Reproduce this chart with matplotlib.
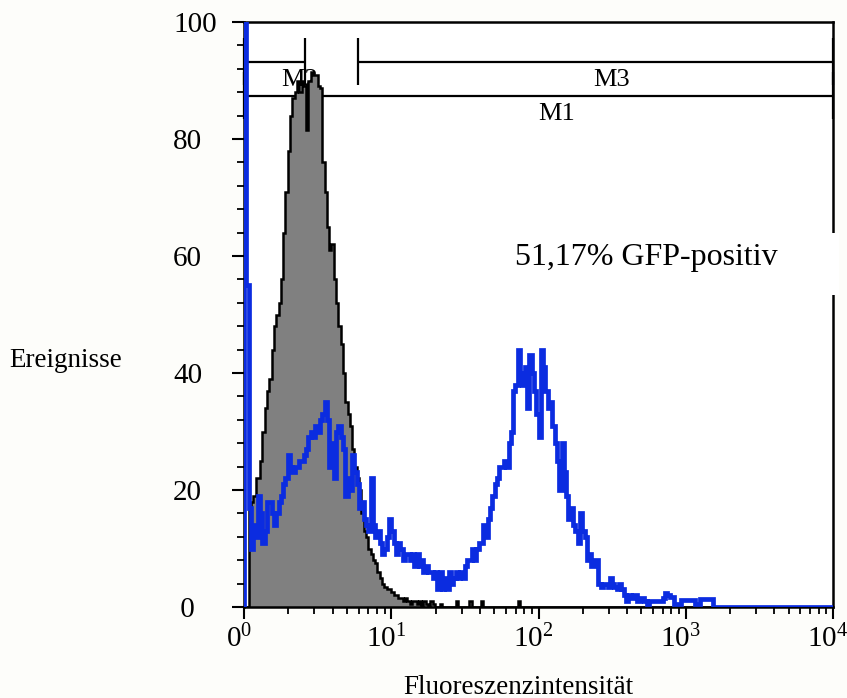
import numpy as np
import matplotlib
matplotlib.use("Agg")
import matplotlib.pyplot as plt
import matplotlib.transforms as mtransforms
from matplotlib.ticker import MultipleLocator, LogLocator, NullFormatter
from matplotlib.patches import Rectangle

plt.rcParams['font.family'] = ['Liberation Serif', 'DejaVu Serif']
plt.rcParams['mathtext.fontset'] = 'custom'
plt.rcParams['mathtext.rm'] = 'Liberation Serif'
plt.rcParams['mathtext.it'] = 'Liberation Serif:italic'

# ---- data: 256 log channels over 4 decades ----
n_channels = 256
log_range = (0, 4)

gray_counts = [
    0, 0, 17, 18, 19, 22, 22, 25, 30, 34, 37, 39, 44, 48, 50, 52,
    56, 64, 71, 78, 84, 87, 88, 90, 88, 90, 89, 81.5, 90, 91.4, 91, 91,
    89, 88.7, 76, 71, 65, 61, 62, 56, 52, 48, 45, 40, 35, 33, 31, 27,
    24, 22, 20, 16, 13, 12, 10, 9, 8, 7.5, 6, 5, 4, 3.5, 3, 3,
    2.5, 2, 2, 1.5, 1.5, 1, 1.5, 1, 0.5, 1, 1, 0.5, 1, 0, 1, 0.5,
    0, 1, 0.5, 0, 0, 0.5, 0, 0, 0, 0, 0, 0, 1, 0, 0, 0,
    0, 0, 1, 0, 0, 0, 0, 1, 0, 0, 0, 0, 0, 0, 0, 0,
    0, 0, 0, 0, 0, 0, 0, 1, 0, 0, 0, 0, 0, 0, 0, 0,
    0, 0, 0, 0, 0, 0, 0, 0, 0, 0, 0, 0, 0, 0, 0, 0,
    0, 0, 0, 0, 0, 0, 0, 0, 0, 0, 0, 0, 0, 0, 0, 0,
    0, 0, 0, 0, 0, 0, 0, 0, 0, 0, 0, 0, 0, 0, 0, 0,
    0, 0, 0, 0, 0, 0, 0, 0, 0, 0, 0, 0, 0, 0, 0, 0,
    0, 0, 0, 0, 0, 0, 0, 0, 0, 0, 0, 0, 0, 0, 0, 0,
    0, 0, 0, 0, 0, 0, 0, 0, 0, 0, 0, 0, 0, 0, 0, 0,
    0, 0, 0, 0, 0, 0, 0, 0, 0, 0, 0, 0, 0, 0, 0, 0,
    0, 0, 0, 0, 0, 0, 0, 0, 0, 0, 0, 0, 0, 0, 0, 0,
]

gfp_counts = [
    150, 55, 17, 10, 14, 12, 19, 16, 11, 13, 18, 18, 16, 14, 16, 18,
    19, 21, 22, 26, 24, 23, 24, 24, 25, 25, 26, 27, 29, 30, 29, 31,
    30, 32, 33, 35, 32, 24, 28, 22, 30, 31, 29, 27, 19, 22, 20, 26,
    23, 21, 17, 18, 15, 14, 13, 22, 14, 12, 13, 11, 9, 10, 12, 15,
    13, 11, 9, 11, 10, 8, 9, 9, 8, 9, 7, 9, 7, 8, 6, 7,
    6, 6, 5, 6, 3, 6, 3, 5, 3, 6, 4, 5, 6, 5, 6, 5,
    7, 8, 8, 10, 8, 10, 11, 11, 14, 12, 15, 17, 19, 21, 22, 24,
    24, 25, 24, 28, 30, 37, 38, 44, 40, 38, 41, 34, 43, 40, 37, 33,
    29, 44, 41, 37, 34, 35, 31, 28, 25, 20, 28, 23, 19, 15, 17, 14,
    13, 11, 16, 13, 12, 8, 9, 7, 8, 8, 4, 3.5, 4, 4, 3.5, 5,
    4, 3.5, 3, 4, 3, 2, 1, 2, 1.5, 2, 2, 1, 1.5, 1.5, 1, 0.5,
    1, 1, 1, 1, 1, 1, 1.5, 2.4, 2, 1.7, 1.7, 0.5, 0.5, 0.5, 1.2, 1.2,
    1.2, 1.2, 1.2, 1.2, 0.5, 0.5, 1.3, 1.3, 1.3, 1.3, 1.3, 1.3, 0, 0, 0, 0,
    0, 0, 0, 0, 0, 0, 0, 0, 0, 0, 0, 0, 0, 0, 0, 0,
    0, 0, 0, 0, 0, 0, 0, 0, 0, 0, 0, 0, 0, 0, 0, 0,
    0, 0, 0, 0, 0, 0, 0, 0, 0, 0, 0, 0, 0, 0, 0, 0,
]

x_ticks = [1, 10, 100, 1000, 10000]
x_tick_labels = [r'$\mathregular{0^{0}}$', r'$\mathregular{10^{1}}$',
                 r'$\mathregular{10^{2}}$', r'$\mathregular{10^{3}}$',
                 r'$\mathregular{10^{4}}$']
y_ticks = [0, 20, 40, 60, 80, 100]
y_tick_labels = [' 0', '20', '40', '60', '80', '100']

gate_names = ['M1', 'M2', 'M3']
gate_start = [1, 1, 5.9]
gate_end = [10000, 2.61, 10000]
gate_level = [87.4, 93.2, 93.2]
gate_label_x = [132, 2.37, 314]
gate_label_y = [84.3, 90.1, 90.1]

annotation = '51,17% GFP-positiv'
x_label = 'Fluoreszenzintensität'
y_label = 'Ereignisse'

# ---- figure ----
fig = plt.figure(figsize=(8.47, 6.98), dpi=100, facecolor='#fdfdfa')
ax = fig.add_axes([244 / 847, 91 / 698, 589 / 847, 585 / 698])
ax.set_facecolor('white')

edges = np.logspace(log_range[0], log_range[1], n_channels + 1)

ax.stairs(gray_counts, edges, fill=True, color='#808080', lw=0, zorder=2)
ax.stairs(gray_counts, edges, color='black', lw=1.8, zorder=2.1)
ax.stairs(gfp_counts, edges, color='#0b2ce0', lw=3.4, zorder=3)

# gates
for name, x0, x1, lvl, lx, ly in zip(gate_names, gate_start, gate_end,
                                     gate_level, gate_label_x, gate_label_y):
    ax.hlines(lvl, x0, x1, color='black', lw=1.6, zorder=1.5)
    ax.vlines([x0, x1], lvl - 4, lvl + 4, color='black', lw=1.6, zorder=1.5,
              clip_on=False)
    ax.text(lx, ly, name, fontsize=19, ha='center', va='center', zorder=1.6)

ax.set_xscale('log')
ax.set_xlim(edges[0], edges[-1])
ax.set_ylim(0, 100)

ax.set_xticks(x_ticks, labels=x_tick_labels)
ax.xaxis.set_minor_locator(LogLocator(base=10, subs=np.arange(2, 10)))
ax.xaxis.set_minor_formatter(NullFormatter())
ax.set_yticks(y_ticks, labels=y_tick_labels)
ax.yaxis.set_minor_locator(MultipleLocator(4))

ax.tick_params(which='major', length=8.6, width=1.5, direction='out', colors='black')
ax.tick_params(which='minor', length=5, width=1.3, direction='out')
ax.tick_params(axis='x', labelsize=21, pad=4)
ax.tick_params(axis='y', labelsize=21, pad=42.5)
for lab in ax.get_yticklabels():
    lab.set_horizontalalignment('left')
shift = mtransforms.ScaledTranslation(-0.05, 0, fig.dpi_scale_trans)
for lab in ax.get_xticklabels():
    lab.set_transform(lab.get_transform() + shift)

for sp in ax.spines.values():
    sp.set_linewidth(1.8)
    sp.set_color('black')

ax.set_xlabel(x_label, fontsize=19.5, va='center')
ax.xaxis.set_label_coords(0.465, -0.137)
ax.set_ylabel(y_label, fontsize=19.5, rotation=0, ha='center', va='center')
ax.yaxis.set_label_coords(-0.302, 0.422)

# annotation box covering the right spine
ax.add_patch(Rectangle((0.435, 0.533), 0.575, 0.106, transform=ax.transAxes,
                       facecolor='white', edgecolor='none', clip_on=False, zorder=5))
ax.text(0.683, 0.597, annotation, transform=ax.transAxes, fontsize=23,
        ha='center', va='center', zorder=6)

fig.savefig('out.png', dpi=100, facecolor=fig.get_facecolor())
